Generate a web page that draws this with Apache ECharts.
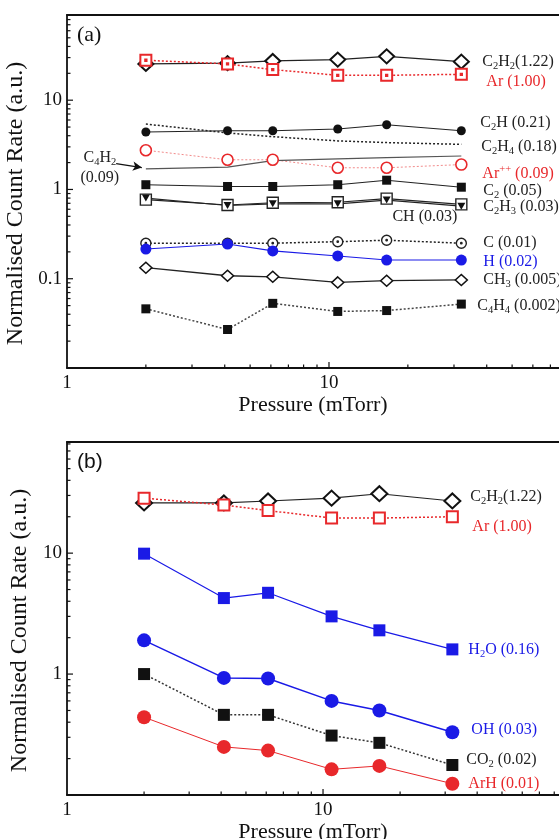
<!DOCTYPE html>
<html>
<head>
<meta charset="utf-8">
<script src="https://cdn.jsdelivr.net/npm/echarts@6/dist/echarts.min.js"></script>
<style>
  html, body { margin: 0; padding: 0; background: #fff; }
  #chart { width: 559px; height: 839px; }
</style>
</head>
<body>
<div id="chart"></div>
<script>
// pressure (mTorr) - same six settings in both panels
const pressure = [2, 4.1, 6.1, 10.8, 16.6, 32];

// panel (a) - hydrocarbon species
const c2h2A = [25.5, 26, 27.5, 28.5, 31, 27];
const arA   = [28, 25.5, 22, 19, 19, 19.5];
const c2h   = [4.4, 4.55, 4.55, 4.75, 5.3, 4.55];
const c2h4  = [5.4, 4.3, 3.9, 3.5, 3.35, 3.2];
const arPP  = [2.75, 2.15, 2.15, 1.75, 1.75, 1.9];
const c4h2  = [1.7, 1.78, 2.1, 2.2, 2.27, 2.37];
const c2    = [1.13, 1.08, 1.08, 1.13, 1.27, 1.06];
const c2h3  = [0.77, 0.67, 0.71, 0.72, 0.79, 0.68];
const ch    = [0.8, 0.66, 0.69, 0.69, 0.76, 0.65];
const carb  = [0.25, 0.25, 0.25, 0.26, 0.27, 0.25];
const hyd   = [0.215, 0.245, 0.205, 0.18, 0.162, 0.162];
const ch3   = [0.133, 0.108, 0.105, 0.091, 0.095, 0.097];
const c4h4  = [0.046, 0.027, 0.053, 0.043, 0.044, 0.052];

// panel (b) - impurity species
const c2h2B = [26, 26, 27, 28.5, 31, 27];
const arB   = [28.5, 25, 22.5, 19.5, 19.5, 20];
const h2o   = [9.9, 4.25, 4.7, 3.0, 2.3, 1.6];
const oh    = [1.9, 0.93, 0.92, 0.6, 0.5, 0.33];
const co2   = [1.0, 0.46, 0.46, 0.31, 0.27, 0.177];
const arh   = [0.44, 0.25, 0.233, 0.163, 0.174, 0.124];

const FONT = 'Liberation Serif';
const RED = '#e8282b';
const BLUE = '#1a1ae6';
const INK = '#111';
// open markers with a small centre dot
const DOT_CIRCLE = 'path://M0,5a5,5 0 1,0 10,0a5,5 0 1,0 -10,0zM4.3,5a0.7,0.7 0 1,0 1.4,0a0.7,0.7 0 1,0 -1.4,0z';
const DOT_SQUARE = 'path://M0,0H10V10H0ZM4.4,4.4H5.6V5.6H4.4Z';

const pts = ys => pressure.map((x, i) => [x, ys[i]]);

function lbl(text, color, dx, dy, align) {
    return {
        show: true, position: 'inside', align: align || 'left', verticalAlign: 'middle',
        offset: [dx, dy], formatter: text, color: color, fontFamily: FONT, fontSize: 16,
        lineHeight: 20, textBorderWidth: 0,
        rich: {
            s: { fontSize: 10.5, lineHeight: 20, verticalAlign: 'bottom', color: color, fontFamily: FONT },
            p: { fontSize: 10.5, lineHeight: 20, verticalAlign: 'top', color: color, fontFamily: FONT }
        }
    };
}

// put a label on one point (last by default)
function labelled(ys, label, idx) {
    const d = pts(ys);
    const i = idx == null ? d.length - 1 : idx;
    d[i] = { value: d[i], label: label };
    return d;
}

function line(name, panel, data, o) {
    return Object.assign({
        name: name, type: 'line', xAxisIndex: panel === 0 ? 0 : 2, yAxisIndex: panel,
        data: data, showSymbol: true, animation: false, silent: true,
        label: { show: false }
    }, o);
}
const solid = (c, w) => ({ color: c, width: w || 1.2, type: 'solid' });
const dotted = (c, w) => ({ color: c, width: w || 1.5, type: [2, 2] });
const hidden = { color: 'rgba(0,0,0,0)' };

function isDecade(v) {
    const e = Math.log10(v);
    return Math.abs(e - Math.round(e)) < 1e-6;
}
function decadeLabel(v) {
    if (!isDecade(v)) return '';
    const r = Math.round(Math.log10(v));
    return r < 0 ? Math.pow(10, r).toFixed(-r) : String(Math.pow(10, r));
}
function logTicks(lo, hi) {
    const out = [];
    for (let e = Math.floor(Math.log10(lo)); e <= Math.ceil(Math.log10(hi)); e++) {
        for (let k = 1; k <= 9; k++) {
            const v = +(k * Math.pow(10, e)).toPrecision(3);
            if (v > lo * 1.0001 && v < hi * 0.9999) out.push(v);
        }
    }
    return out;
}
// inward ticks drawn through the axis scale
function ticks(xi, yi, values, dir, at) {
    return {
        type: 'custom', xAxisIndex: xi, yAxisIndex: yi, silent: true, animation: false, z: 3,
        data: values.map(v => dir === 'x' ? [v, at] : [at, v]),
        renderItem: (params, api) => {
            const p = api.coord([api.value(0), api.value(1)]);
            const v = dir === 'x' ? api.value(0) : api.value(1);
            const len = isDecade(v) ? 6 : 3.5;
            return {
                type: 'line',
                shape: dir === 'x'
                    ? { x1: p[0], y1: p[1], x2: p[0], y2: p[1] - len }
                    : { x1: p[0], y1: p[1], x2: p[0] + len, y2: p[1] },
                style: { stroke: INK, lineWidth: 1.2 }
            };
        }
    };
}

const X_MAX = [75.5, 83.5];
const Y_MIN = [0.01, 0.1];
const Y_MAX = [90, 83];
const axisLine = { show: true, onZero: false, lineStyle: { color: INK, width: 1.8 } };
const tickFont = { fontFamily: FONT, fontSize: 19, color: INK };
const nameFont = { fontFamily: FONT, fontSize: 22, color: INK };

function xAxes(g) {
    return [{
        gridIndex: g, type: 'log', min: 1, max: X_MAX[g], position: 'bottom',
        axisLine: axisLine, axisTick: { show: false }, splitLine: { show: false },
        axisLabel: Object.assign({ formatter: decadeLabel, margin: 6, showMaxLabel: false }, tickFont),
        name: 'Pressure (mTorr)', nameLocation: 'middle', nameGap: g === 0 ? 26 : 17,
        nameTextStyle: nameFont
    }, {
        gridIndex: g, type: 'log', min: 1, max: X_MAX[g], position: 'top',
        axisLine: axisLine, axisTick: { show: false }, axisLabel: { show: false },
        splitLine: { show: false }
    }];
}
function yAxis(g) {
    return {
        gridIndex: g, type: 'log', min: Y_MIN[g], max: Y_MAX[g],
        axisLine: axisLine, axisTick: { show: false }, splitLine: { show: false },
        axisLabel: Object.assign({ formatter: decadeLabel, margin: 5, showMinLabel: false, showMaxLabel: false }, tickFont),
        name: 'Normalised Count Rate (a.u.)', nameLocation: 'middle', nameGap: 32,
        nameTextStyle: Object.assign({}, nameFont, { fontSize: 24, padding: [0, 24, 0, 0] })
    };
}

const seriesA = [
    line('C2H2', 0, labelled(c2h2A, lbl('C{s|2}H{s|2}(1.22)', '#222', 21, 0)), {
        symbol: 'diamond', symbolSize: [15, 14], z: 4,
        itemStyle: { color: '#fff', borderColor: INK, borderWidth: 2 }, lineStyle: solid('#222', 1.2)
    }),
    line('Ar', 0, labelled(arA, lbl('Ar (1.00)', RED, 25, 8)), {
        symbol: DOT_SQUARE, symbolSize: 11, z: 5,
        itemStyle: { color: '#fff', borderColor: RED, borderWidth: 2 }, lineStyle: dotted(RED, 1.5)
    }),
    line('C2H', 0, labelled(c2h, lbl('C{s|2}H (0.21)', '#222', 19, -8)), {
        symbol: 'circle', symbolSize: 9, itemStyle: { color: INK }, lineStyle: solid('#222', 1.1)
    }),
    line('C2H4', 0, labelled(c2h4, lbl('C{s|2}H{s|4} (0.18)', '#222', 20, 2)), {
        symbol: 'circle', symbolSize: 1, itemStyle: hidden, lineStyle: dotted('#222', 1.5)
    }),
    line('Ar++', 0, labelled(arPP, lbl('Ar{p|++} (0.09)', RED, 21, 9)), {
        symbol: 'circle', symbolSize: 11,
        itemStyle: { color: '#fff', borderColor: RED, borderWidth: 1.6 }, lineStyle: dotted('#f28b8b', 1)
    }),
    line('C4H2', 0, labelled(c4h2, lbl('C{s|4}H{s|2}\n(0.09)', '#222', -46, -1, 'center'), 0), {
        symbol: 'circle', symbolSize: 1, itemStyle: hidden, lineStyle: solid('#555', 1.2),
        markLine: {
            silent: true, animation: false, symbol: ['none', 'arrow'], symbolSize: [7, 9],
            label: { show: false }, lineStyle: { color: INK, width: 1.2, type: 'solid' },
            data: [[{ coord: [1.54, 1.95] }, { coord: [1.93, 1.76] }]]
        }
    }),
    line('C2', 0, labelled(c2, lbl('C{s|2} (0.05)', '#222', 22, 4)), {
        symbol: 'rect', symbolSize: 9, itemStyle: { color: INK }, lineStyle: solid('#222', 1.1)
    }),
    line('C2H3', 0, labelled(c2h3, lbl('C{s|2}H{s|3} (0.03)', '#222', 22, 2)), {
        symbol: 'rect', symbolSize: 11,
        itemStyle: { color: '#fff', borderColor: '#222', borderWidth: 1.4 }, lineStyle: solid('#222', 1.1)
    }),
    line('CH', 0, labelled(ch, lbl('CH (0.03)', '#222', -4, 11, 'right')), {
        symbol: 'triangle', symbolRotate: 180, symbolSize: [8, 7],
        itemStyle: { color: INK }, lineStyle: solid('#222', 1.1)
    }),
    line('C', 0, labelled(carb, lbl('C (0.01)', '#222', 22, 0)), {
        symbol: DOT_CIRCLE, symbolSize: 10,
        itemStyle: { color: '#fff', borderColor: '#222', borderWidth: 1.4 }, lineStyle: dotted('#222', 1.5)
    }),
    line('H', 0, labelled(hyd, lbl('H (0.02)', BLUE, 22, 2)), {
        symbol: 'circle', symbolSize: 11, itemStyle: { color: BLUE }, lineStyle: solid(BLUE, 1.1)
    }),
    line('CH3', 0, labelled(ch3, lbl('CH{s|3} (0.005)', '#222', 22, 0)), {
        symbol: 'diamond', symbolSize: [12, 11],
        itemStyle: { color: '#fff', borderColor: INK, borderWidth: 1.5 }, lineStyle: solid('#222', 1.3)
    }),
    line('C4H4', 0, labelled(c4h4, lbl('C{s|4}H{s|4} (0.002)', '#222', 16, 2)), {
        symbol: 'rect', symbolSize: 9, itemStyle: { color: INK }, lineStyle: dotted('#444', 1.5)
    })
];

const seriesB = [
    line('C2H2', 1, labelled(c2h2B, lbl('C{s|2}H{s|2}(1.22)', '#222', 18, -4)), {
        symbol: 'diamond', symbolSize: [16, 15], z: 4,
        itemStyle: { color: '#fff', borderColor: INK, borderWidth: 2 }, lineStyle: solid('#222', 1.2)
    }),
    line('Ar', 1, labelled(arB, lbl('Ar (1.00)', RED, 20, 10)), {
        symbol: 'rect', symbolSize: 11, z: 5,
        itemStyle: { color: '#fff', borderColor: RED, borderWidth: 2 }, lineStyle: dotted(RED, 1.5)
    }),
    line('H2O', 1, labelled(h2o, lbl('H{s|2}O (0.16)', BLUE, 16, 0)), {
        symbol: 'rect', symbolSize: 12, itemStyle: { color: BLUE }, lineStyle: solid(BLUE, 1.2)
    }),
    line('OH', 1, labelled(oh, lbl('OH (0.03)', BLUE, 19, -2)), {
        symbol: 'circle', symbolSize: 14, itemStyle: { color: BLUE }, lineStyle: solid(BLUE, 1.5)
    }),
    line('CO2', 1, labelled(co2, lbl('CO{s|2} (0.02)', '#222', 14, -5)), {
        symbol: 'rect', symbolSize: 12, itemStyle: { color: INK }, lineStyle: dotted('#333', 1.5)
    }),
    line('ArH', 1, labelled(arh, lbl('ArH (0.01)', RED, 16, 0)), {
        symbol: 'circle', symbolSize: 14, itemStyle: { color: RED }, lineStyle: solid(RED, 1)
    })
];

const chart = echarts.init(document.getElementById('chart'), null, { renderer: 'canvas' });
chart.setOption({
    animation: false,
    backgroundColor: '#fff',
    grid: [
        { left: 67, right: 0, top: 15, height: 353, outerBoundsMode: 'none' },
        { left: 67, right: 0, top: 442, height: 353, outerBoundsMode: 'none' }
    ],
    xAxis: xAxes(0).concat(xAxes(1)),
    yAxis: [yAxis(0), yAxis(1)],
    graphic: [
        { type: 'text', left: 77, top: 24, style: { text: '(a)', fontFamily: FONT, fontSize: 22, fill: INK } },
        { type: 'text', left: 77, top: 452, style: { text: '(b)', fontFamily: 'Liberation Sans', fontSize: 21, fill: INK } }
    ],
    series: [
        ticks(0, 0, logTicks(1, X_MAX[0]), 'x', Y_MIN[0]),
        ticks(0, 0, logTicks(Y_MIN[0], Y_MAX[0]), 'y', 1),
        ticks(2, 1, logTicks(1, X_MAX[1]), 'x', Y_MIN[1]),
        ticks(2, 1, logTicks(Y_MIN[1], Y_MAX[1]), 'y', 1)
    ].concat(seriesA, seriesB)
});
</script>
</body>
</html>
